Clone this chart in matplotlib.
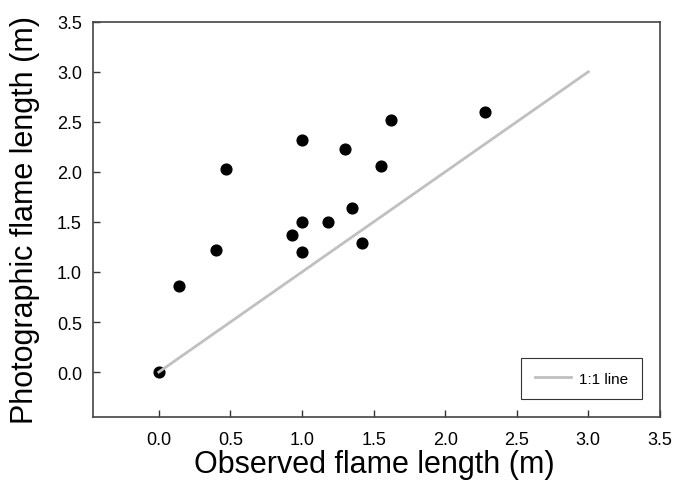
import numpy as np
import matplotlib.pyplot as plt

plt.rcParams['font.family'] = ['Liberation Sans', 'DejaVu Sans']

# observed vs photographic flame length (m)
observed = [0.0, 0.14, 0.40, 0.47, 0.93, 1.0, 1.0, 1.0, 1.18, 1.30, 1.35, 1.42, 1.55, 1.62, 2.28]
photographic = [0.0, 0.86, 1.22, 2.03, 1.37, 2.32, 1.50, 1.20, 1.50, 2.23, 1.64, 1.29, 2.06, 2.52, 2.60]
one_to_one = [0.0, 3.0]
ticks = [0.0, 0.5, 1.0, 1.5, 2.0, 2.5, 3.0, 3.5]

fig = plt.figure(figsize=(6.74, 4.85), dpi=100)
ax = fig.add_axes([0.138, 0.138, 0.841, 0.815])

ax.scatter(observed, photographic, s=60, color='black', zorder=2)
ax.plot(one_to_one, one_to_one, color='#c0c0c0', linewidth=2, label='1:1 line', zorder=3)

ax.set_xlim(-0.46, 3.5)
ax.set_ylim(-0.45, 3.5)
ax.set_xticks(ticks)
ax.set_yticks(ticks)
ax.set_xticklabels([f'{t:.1f}' for t in ticks])
ax.set_yticklabels([f'{t:.1f}' for t in ticks])
ax.tick_params(direction='in', length=5, width=1, color='#333333', labelsize=13)
ax.tick_params(axis='x', pad=10)
ax.tick_params(axis='y', pad=8)
for sp in ax.spines.values():
    sp.set_color('#444444')
    sp.set_linewidth(1.2)

ax.set_xlabel('Observed flame length (m)', fontsize=22)
ax.set_ylabel('Photographic flame length (m)', fontsize=22)
ax.xaxis.set_label_coords(0.497, -0.08)
ax.yaxis.set_label_coords(-0.093, 0.5)

leg = ax.legend(loc='lower right', bbox_to_anchor=(0.968, 0.045), fontsize=11,
                fancybox=False, edgecolor='black', borderpad=0.9,
                handlelength=2.4, handletextpad=0.5, borderaxespad=0)
leg.get_frame().set_linewidth(0.8)

fig.savefig('out.png', dpi=100)
